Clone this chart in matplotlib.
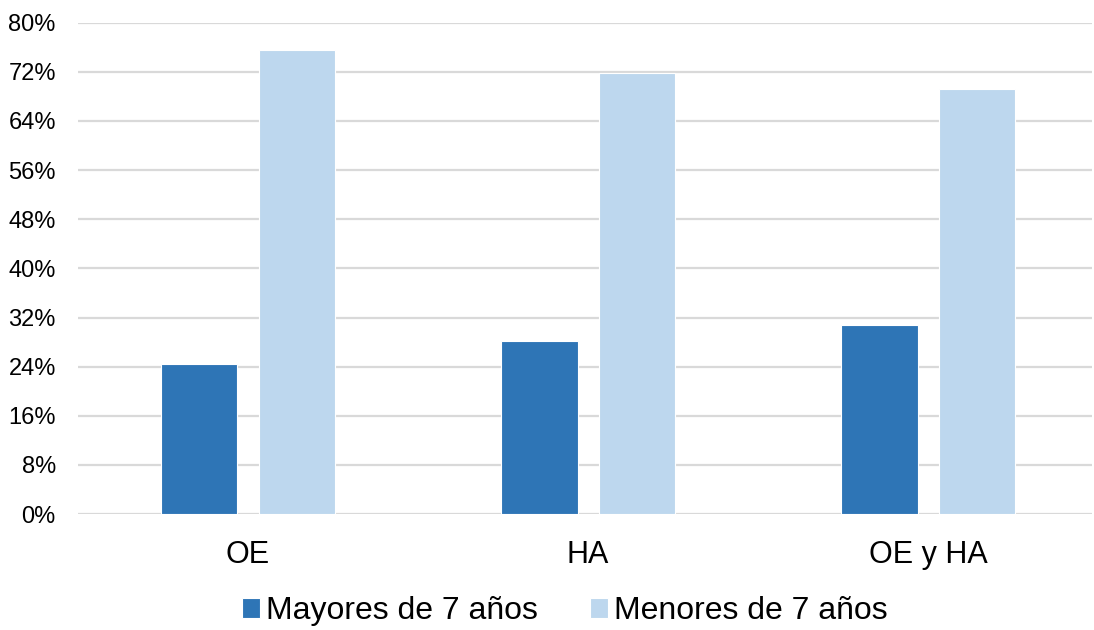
import matplotlib
matplotlib.use("Agg")
import matplotlib.pyplot as plt
import numpy as np
from matplotlib.ticker import FuncFormatter

plt.rcParams['font.family'] = ['Liberation Sans', 'DejaVu Sans']

categories = ["OE", "HA", "OE y HA"]
series_names = ["Mayores de 7 años", "Menores de 7 años"]
mayores = [24.5, 28.2, 30.8]
menores = [75.5, 71.8, 69.2]
colors = ["#2E75B6", "#BDD7EE"]

fig = plt.figure(figsize=(10.94, 6.30), dpi=100)
ax = fig.add_axes([0.0713, 0.184, 0.9269, 0.780])

x = np.arange(len(categories))
width = 0.225
offset = 0.1435
ax.bar(x - offset, mayores, width, color=colors[0], edgecolor="white", linewidth=0.8,
       label=series_names[0], zorder=3)
ax.bar(x + offset, menores, width, color=colors[1], edgecolor="white", linewidth=0.8,
       label=series_names[1], zorder=3)

ax.set_xlim(-0.5, 2.482)
ax.set_ylim(0, 80)
ax.set_yticks(np.arange(0, 81, 8))
ax.yaxis.set_major_formatter(FuncFormatter(lambda v, p: f"{int(round(v))}%"))
ax.set_xticks(x)
ax.set_xticklabels(categories, fontsize=22)
ax.tick_params(axis='y', labelsize=17, length=0, pad=16)
ax.tick_params(axis='x', length=0, pad=19)
ax.grid(axis='y', color="#D9D9D9", linewidth=1.6, zorder=0)
for s in ax.spines.values():
    s.set_visible(False)

fig.legend(loc="lower center", bbox_to_anchor=(0.516, -0.04), ncol=2, frameon=False,
           fontsize=23, handlelength=0.56, handleheight=0.56, handletextpad=0.19,
           columnspacing=1.63)

fig.savefig("out.png", dpi=100)
